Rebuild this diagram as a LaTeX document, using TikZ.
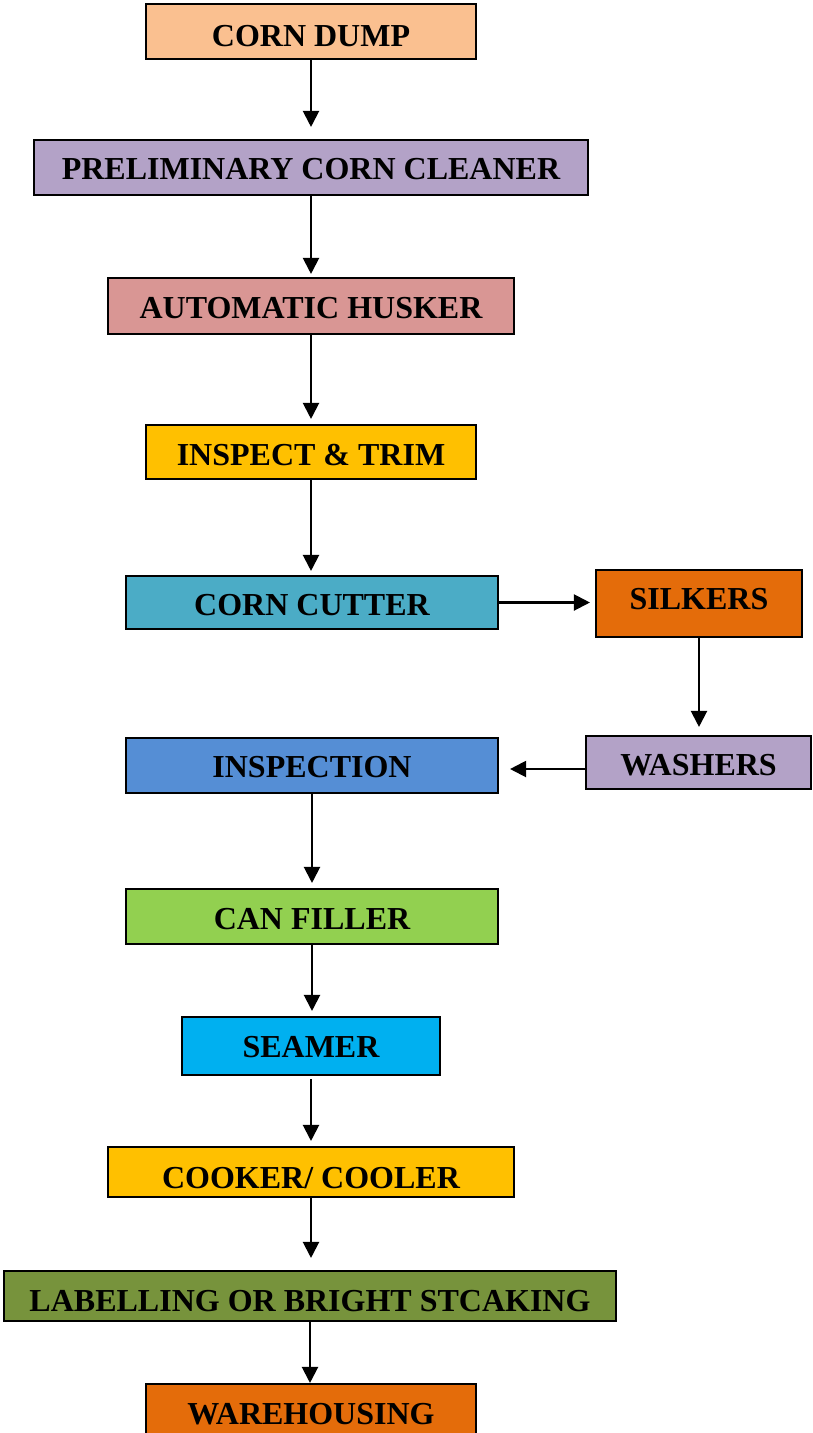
\documentclass[tikz,border=0pt]{standalone}
\usepackage{fontspec}
\setmainfont{Liberation Serif}
\usetikzlibrary{arrows.meta}
\definecolor{cDump}{HTML}{FAC090}
\definecolor{cLav}{HTML}{B3A2C7}
\definecolor{cHusk}{HTML}{D99694}
\definecolor{cGold}{HTML}{FFC000}
\definecolor{cCut}{HTML}{4BACC6}
\definecolor{cOrange}{HTML}{E46C0A}
\definecolor{cInsp}{HTML}{558ED5}
\definecolor{cCan}{HTML}{92D050}
\definecolor{cSeam}{HTML}{00B0F0}
\definecolor{cOlive}{HTML}{77933C}
\tikzset{
  box/.style={draw=black, line width=2.1pt, rectangle, inner sep=0pt,
    font=\fontsize{32}{38}\selectfont\bfseries, text depth=0pt},
  txt/.style={inner sep=0pt, font=\fontsize{32}{38}\selectfont\bfseries, text depth=0pt},
  arr/.style={line width=2.1pt, -{Triangle[width=16pt,length=16pt]}}
}
\begin{document}
\begin{tikzpicture}[x=1pt,y=-1pt]
\useasboundingbox (0,0) rectangle (812,1433);
\node[box, fill=cDump, minimum width=330pt, minimum height=55pt, text height=29pt] (dump) at (311,31.5) {CORN DUMP};
\node[box, fill=cLav, minimum width=554pt, minimum height=55pt, text height=24pt] (prel) at (311,167.5) {PRELIMINARY CORN CLEANER};
\node[box, fill=cHusk, minimum width=406pt, minimum height=56pt, text height=24pt] (husk) at (311,306) {AUTOMATIC HUSKER};
\node[box, fill=cGold, minimum width=330pt, minimum height=54pt, text height=26pt] (trim) at (311,452) {INSPECT \& TRIM};
\node[box, fill=cCut, minimum width=372pt, minimum height=53pt, text height=26pt] (cut) at (312,602.5) {CORN CUTTER};
\node[box, fill=cOrange, minimum width=206pt, minimum height=67pt, text height=12pt] (silk) at (699,603.5) {SILKERS};
\node[box, fill=cLav, minimum width=225pt, minimum height=53pt, text height=26pt] (wash) at (698.5,762.5) {WASHERS};
\node[box, fill=cInsp, minimum width=372pt, minimum height=55pt, text height=24pt] (insp) at (312,765.5) {INSPECTION};
\node[box, fill=cCan, minimum width=372pt, minimum height=55pt, text height=25pt] (can) at (312,916.5) {CAN FILLER};
\node[box, fill=cSeam, minimum width=258pt, minimum height=58pt, text height=22.6pt] (seam) at (311,1046) {SEAMER};
\node[box, fill=cGold, minimum width=406pt, minimum height=50pt] (cook) at (311,1172) {};
\begin{scope}
  \clip (cook.north west) rectangle ([yshift=10pt]cook.south east);
  \node[txt, text height=32pt] (cookt) at (cook) {COOKER/ COOLER};
\end{scope}
\node[box, fill=cOlive, minimum width=612pt, minimum height=50pt] (lab) at (310,1296) {};
\begin{scope}
  \clip (lab.north west) rectangle ([yshift=11pt]lab.south east);
  \node[txt, text height=30pt] (labt) at (lab) {LABELLING OR BRIGHT STCAKING};
\end{scope}
\node[box, fill=cOrange, minimum width=330pt, minimum height=54pt] (ware) at (311,1411) {};
\begin{scope}
  \clip (ware.north west) rectangle ([yshift=15pt]ware.south east);
  \node[txt, text height=26pt] (waret) at (ware) {WAREHOUSING};
\end{scope}
% arrows
\draw[arr, shorten >=12pt] (dump.south) -- (dump.south |- prel.north);
\draw[arr, shorten >=3pt] (prel.south) -- (prel.south |- husk.north);
\draw[arr, shorten >=5pt] (husk.south) -- (husk.south |- trim.north);
\draw[arr, shorten >=4pt] (trim.south) -- (trim.south |- cut.north);
\draw[arr, shorten >=5pt] (cut.east) -- (cut.east -| silk.west);
\draw[arr, shorten >=8pt] (silk.south) -- (silk.south |- wash.north);
\draw[arr, shorten >=11pt] ([yshift=-6.5pt]wash.west) -- ([yshift=-6.5pt]wash.west -| insp.east);
\draw[arr, shorten >=5pt] (insp.south) -- (insp.south |- can.north);
\draw[arr, shorten >=5pt] (can.south) -- (can.south |- seam.north);
\draw[arr, shorten <=3pt, shorten >=5pt] (seam.south) -- (seam.south |- cook.north);
\draw[arr, shorten >=12pt] (cook.south) -- (cook.south |- lab.north);
\draw[arr] (lab.south) -- (lab.south |- ware.north);
\end{tikzpicture}
\end{document}
